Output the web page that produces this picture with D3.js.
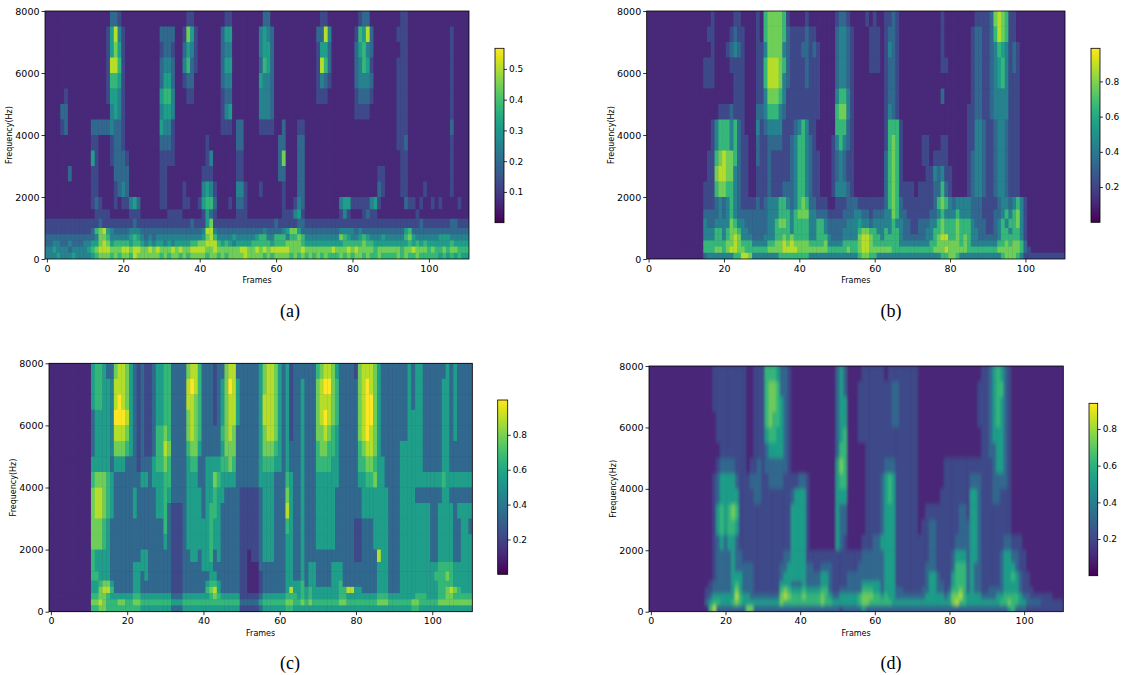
<!DOCTYPE html>
<html>
<head>
<meta charset="utf-8">
<title>Spectrograms</title>
<script src="https://cdn.jsdelivr.net/npm/d3@7"></script>
<style>
  body { margin: 0; background: #fff; }
  svg { display: block; }
  .tick text { font-family: "DejaVu Sans", sans-serif; fill: #000; }
  .tick line { stroke: #000; stroke-width: 0.8px; }
  .axis-label { font-family: "DejaVu Sans", sans-serif; font-size: 8px; fill: #000; }
  .caption { font-family: "Liberation Serif", "Times New Roman", serif; font-size: 18px; fill: #000; }
</style>
</head>
<body>
<svg id="chart" width="1128" height="675"></svg>
<script>
const nFrames = 111;
const bandEdges = [0, 200, 400, 600, 800, 1000, 1300, 1600, 2000, 2500, 3000, 3500,
                   4000, 4500, 5000, 5500, 6000, 6500, 7000, 7500, 8000];
const xTicks = [0, 20, 40, 60, 80, 100];
const yTicks = [0, 2000, 4000, 6000, 8000];
const vmaxA = 0.567, vmaxB = 0.988, vmaxC = 1.0, vmaxD = 0.94;
const cbarTicksA = [0.1, 0.2, 0.3, 0.4, 0.5];
const cbarTicksB = [0.2, 0.4, 0.6, 0.8];
const cbarTicksC = [0.2, 0.4, 0.6, 0.8];
const cbarTicksD = [0.2, 0.4, 0.6, 0.8];
const captions = ["(a)", "(b)", "(c)", "(d)"];

// levels 0-9 (share of the colour range), one digit per frame,
// top band (7500-8000 Hz) first, bottom band (0-200 Hz) last
const specA = [
  "1111111111 1111111332 1111111111 1111111221 1111111221 1111111331 1111111111 1122111111 1123311111 1112211111 1111111111 1",
  "1111111111 1111112584 2111111111 3333112752 1111113551 1111114543 1111111111 1338411111 1265831111 1122211111 1111112111 1",
  "1111111111 1111112575 2111111111 2332113542 1111113441 1111114553 1111111111 1255311111 1356431111 1112211111 1111112111 1",
  "1111111111 1111112886 2111111111 3443114632 1111113551 1111113653 1111111111 1286311111 1346521111 1122211111 1111112111 1",
  "1111111111 1111112665 2111111111 3553112331 1111113441 1111115443 1111111111 1243211111 1344431111 1122211111 1111112111 1",
  "1111121111 1111112554 2111111111 5664111221 1111112331 1111114443 1111111111 1222111111 1233321111 1122211111 1111112111 1",
  "1111331111 1111111454 2111111111 4554111111 1111112451 1111114443 1111111111 1111111111 1222211111 1122211111 1111112111 1",
  "1111231111 1133333433 2111111111 5442111111 1111112221 3311112222 1131112211 1111111111 1111111111 1122211111 1111113111 1",
  "1111111111 1122111233 2111111111 3332111111 1121111111 3311111111 1331113311 1111111111 1111111111 1122311111 1111112111 1",
  "1111111111 1152111233 3211111111 2222111111 1124111111 2211111111 1371113311 1111111111 1111111111 1112211111 1111112111 1",
  "1111113111 1122111133 3311111111 2211111111 1222111111 2211111111 1331113311 1111111111 1111111221 1112211111 1111112111 1",
  "1111111111 1122111123 4311111111 2211112111 1454211111 4421112111 1121113311 1111111111 1111111321 1112211112 1111112111 1",
  "1111111111 1123211121 2245311111 2211112211 2566311121 3321111111 1121124311 1111111455 2222245211 1111322121 1212111121 1",
  "1111111111 1112222111 1122211111 1122221111 1253211111 2221111111 1122245211 1111111242 1112322111 1111111211 1111111111 1",
  "2222222222 2222322222 2223222222 2222222232 2257222222 2222222222 3222223322 2222222222 2222222222 2222222232 2222223322 2",
  "2222222222 2236785433 3344433333 3333333333 3488433333 3333333433 3345775333 3333333444 4343333333 3333563333 3333333333 3",
  "3333333333 3334776444 4456543434 4444444444 4578644445 4444456644 6664667644 4444444765 4456544454 4444675444 4445554444 4",
  "3344334333 4455787566 6656654545 5454555566 7788865654 5555666665 6667777655 5555555566 6667665555 5555565656 5555556555 5",
  "4454443444 4567888777 8878877878 7778787788 8877877777 7887787878 8888777877 7777787778 7877776777 7776778777 6766767766 6",
  "4445444544 4456777676 7768777777 6767767677 7767767677 7787777676 7777676767 6767666767 6776766766 6676766766 6665656565 5"
];

const specB = [
  "1111111111 1111111211 1112211112 1677776211 1121111111 2332111121 2112232111 1111111121 1111111222 2378762211 1111111111 1",
  "1111111111 1111112211 1123221112 1677776322 2232211111 3443211112 2212332111 1111111121 1111112332 2368762211 1111111111 1",
  "1111111111 1111111211 1234321112 2477774322 2332321111 3443211112 2212432111 1111111121 1111112332 2346542321 1111111111 1",
  "1111111111 1111122211 1122221112 2688876322 2232221111 3443211112 2212332111 1111111122 1111112332 2345642321 1111111111 1",
  "1111111111 1111122211 1112221112 2688874322 2232221111 3443211111 1112332111 1111111111 1111112332 2345642221 1111111111 1",
  "1111111111 1111111111 1112221112 2477764222 2222221111 4664211111 1112332111 1111111131 1111112332 2344442221 1111111111 1",
  "1111111111 1111111112 2232221113 3466643222 2222221111 6774211111 1112432111 1111111111 1111122332 2344442221 1111111111 1",
  "1111111111 1111111246 6646321114 2344442223 4642211111 6663211111 1112666211 1111111111 1111122443 2234432221 1111111111 1",
  "1111111111 1111111246 6646322113 2233332234 6643211112 4643211111 1112676211 1112211122 1111122443 2234432221 1111111111 1",
  "1111111111 1111112267 8776322113 2232222234 6643221112 3432211111 1113676211 1112212222 1111123443 2234432221 1111111111 1",
  "1111111111 1111112278 8774322112 2232222234 6643221112 3432211111 1113676211 1111224342 2111123443 2234432221 1111111111 1",
  "1111111111 1111122267 7664322112 2232223334 6643221112 4443211111 1113676222 2122223363 2111123443 2234432221 1111111111 1",
  "1111111111 1111122234 3464322223 2344466434 6763322211 2223332222 2223676322 2222223676 4344443332 2223443464 2111111111 1",
  "1111111111 1111133334 3464333333 3344466646 7774433322 2233344332 3334476332 2222233464 4464443332 2233464674 2111111111 1",
  "1111111111 1111143344 4476443333 3344677646 6664466433 3334445443 4444464433 2233344676 6676664333 2234646674 2111111111 1",
  "1111111111 1111144466 4677644333 3344666646 6664466433 3344446776 6446466433 2233446676 6676664433 2234664664 2111111111 1",
  "1111111111 1111144466 4678744433 3444667676 6664466643 3344447887 6646666433 3333446788 6676764433 3334666664 2111111111 1",
  "1111111111 1111166666 6778766644 4466778787 7776666744 4466667887 6666666444 4444466777 7776764444 4446676776 3111111111 1",
  "1111111111 1111166677 6788776666 6677778888 7777777766 6667667887 7777766666 6666667778 7777766666 6667777776 3211111111 1",
  "1111111111 1111134444 4446688744 4444466666 6664444444 4444446776 6444444444 4444444466 7764444444 4444677764 2222222222 2"
];

const specC = [
  "1111111111 1566533788 7532322355 6633337886 3332337883 3333357887 5352333333 6788753333 2788875333 3333535533 3333535333 3",
  "1111111111 1566554888 7532322355 6633338986 3332357985 3333357887 5352335333 7899763333 3789875333 3333535533 3335535333 3",
  "1111111111 1566554898 7532322355 6633338876 3332357885 3333358887 5352335333 7888763333 3789975333 3333535533 3335535333 3",
  "1111111111 1355554999 8532322355 6633337876 3332357885 3333358887 5352335333 7898763333 3789975333 3333555533 3335535333 3",
  "1111111111 1355554888 7532322366 7633337876 3333367873 3333357887 5352335333 7787653333 3789875333 3333555533 3335535333 3",
  "1111111111 1355554777 6532322366 8733336775 3333357773 3333357776 5353335333 6776653333 3678875333 3355555533 3335533333 3",
  "1111111111 1555553555 3332333566 7633335663 3555566763 3333356665 5353335333 6666553333 3667765533 3355555533 3335533333 3",
  "1111111111 1677765333 3333553555 6633335553 3557655553 3333355553 3365335333 5555553333 3556675533 3355555555 5556555555 5",
  "1111111111 1788765333 3353333355 6533335555 3556553333 2222235553 3375335333 5555533333 3355555553 3355553333 3335533333 3",
  "1111111111 1788765333 3353333355 6322235555 3566533333 2222235553 3385335333 5555533333 3355555553 3355555555 3355553555 5",
  "1111111111 1777653333 3333333333 6322235555 5565533333 2222235553 3365335333 5555533333 2233355553 3355555555 3355553355 3",
  "1111111111 1777653333 3333333333 5322235555 5565533333 2222235553 3355335333 5555533333 2233355553 3355555555 3355553355 5",
  "1111111111 1655553333 3333553333 3322233553 5563533333 2212235553 3355335333 3333333333 2233338553 3355555555 3355553355 5",
  "1111111111 1655553333 3355553333 3322233333 5553333333 2211133333 3355335355 3333555333 3333335553 3355555555 5566665555 5",
  "1111111111 1665553333 3355353333 3322233333 3355333333 2211123333 3355335355 3333555333 3333335553 3355555555 5666765555 5",
  "1111111111 1556775333 3355333333 3322233333 3566533333 2211123333 3355556355 3333556333 3333335553 3355555555 5566665555 5",
  "1111111111 1557886333 3355333333 3322233333 3678533333 2211123333 3358556565 5555556688 5533335553 3355555555 5566787655 5",
  "1111111111 1667765555 5566555555 5533355555 5567655555 2222235555 5566656565 5555556655 5555556665 5555556665 5566776666 6",
  "1111111111 1778766677 6677666666 6655566666 6666666666 3333356666 6677667676 6666667766 6666667776 6666677666 6677777777 7",
  "1111111111 1667766666 6666555555 5533355555 5555555555 2222235555 5566555555 5555555555 5555555555 5555566555 5555555555 5"
];

const specD = [
  "1111111111 1111111222 2222221122 2666533211 1111111111 3531111222 2221222222 2211111111 1111111112 2356532111 1111111111 1",
  "1111111111 1111111222 2222221122 2677633211 1111111111 3531112222 2222233222 2211111111 1111111122 2356632111 1111111111 1",
  "1111111111 1111111222 2222221122 2677653211 1111111111 3551112222 2222233222 2211111111 1111111122 2356532111 1111111111 1",
  "1111111111 1111111122 2222221122 2676653211 1111111111 3551112222 2222233222 2211111111 1111111122 2356532111 1111111111 1",
  "1111111111 1111111122 2222221122 2566553211 1111111111 3561112222 2222222222 2211111111 1111111112 2355532111 1111111111 1",
  "1111111111 1111111112 2222221122 2355553211 1111111111 3661111122 2222222222 2211111111 1111111112 2335532111 1111111111 1",
  "1111111111 1111111123 3332221223 2333333211 1111111111 5761111122 2223332222 2211111112 2222222222 2235532111 1111111111 1",
  "1111111111 1111111235 5553222333 2233332222 3321111111 5661111122 2235652222 2211111112 2222223332 2233332111 1111111111 1",
  "1111111111 1111111235 5555222233 2222222235 5521111111 5551111122 2235652222 2211111122 2222225532 2233222111 1111111111 1",
  "1111111111 1111111256 5676222222 2222222255 5521111111 5331111122 2235552222 2211222222 2223325532 2222222111 1111111111 1",
  "1111111111 1111111256 5665222222 2222222255 5521111111 5331111122 2235552222 2212233222 2223335532 2222222111 1111111111 1",
  "1111111111 1111111235 3553222222 2222222255 5521111111 5321111222 3355552222 2222233222 2233335532 2222233222 1111111111 1",
  "1111111111 1111111233 3353322222 2222223355 5522222222 2222222333 3335552222 2222233222 2355535532 2222355332 2111111111 1",
  "1111111111 1111111233 3353333322 2222233555 5533223332 2222223333 3335552222 2222333222 2366635332 2222355532 2111111111 1",
  "1111111111 1111111233 3355533322 2222235555 5533335532 2223333333 3335552222 2222355322 2566635332 2222355653 2211111111 1",
  "1111111111 1111112333 3356533322 2222255533 3533335532 2223333555 5535552222 2222355332 2566635332 2222355553 2211111111 1",
  "1111111111 1111122333 3357533322 2222267655 5655556632 2333333666 5535553322 2223355332 3667635332 2333355553 2221111111 1",
  "1111111111 1111123555 5558655333 3333378766 6766667653 3555556777 6656553333 3333555553 5778655553 3335566665 3322222211 1",
  "1111111111 1111135665 5567655555 5555576666 6666667665 5555556776 6666655555 5555555555 5786655555 5555667665 5333322222 2",
  "1111111111 1111116833 3333337733 3333333333 3333333333 3233333533 3333333333 3333333333 3333333333 3333335633 3222222222 2"
];

// layout of the four panels (pixels)
const panels = [
  {rows: specA, vmax: vmaxA, cbTicks: cbarTicksA, caption: captions[0], soft: false,
   plot: {x: 45, y: 11, w: 424, h: 248}, cbar: {x: 495, y: 48.3, w: 9, h: 174.4}, cap: {x: 290, y: 317}},
  {rows: specB, vmax: vmaxB, cbTicks: cbarTicksB, caption: captions[1], soft: false,
   plot: {x: 646.7, y: 11, w: 418.3, h: 248}, cbar: {x: 1091, y: 48.3, w: 9, h: 174}, cap: {x: 891, y: 317}},
  {rows: specC, vmax: vmaxC, cbTicks: cbarTicksC, caption: captions[2], soft: false,
   plot: {x: 49, y: 363.3, w: 423.3, h: 248.4}, cbar: {x: 497.7, y: 400, w: 10, h: 174.3}, cap: {x: 290, y: 669}},
  {rows: specD, vmax: vmaxD, cbTicks: cbarTicksD, caption: captions[3], soft: true,
   plot: {x: 649, y: 366, w: 414.3, h: 245.7}, cbar: {x: 1089, y: 403.3, w: 8.7, h: 172.4}, cap: {x: 891, y: 669}}
];

const svg = d3.select("#chart");
const defs = svg.append("defs");

defs.append("filter")
    .attr("id", "soft")
    .attr("x", "-5%").attr("y", "-5%").attr("width", "110%").attr("height", "110%")
    .append("feGaussianBlur")
    .attr("stdDeviation", "1.3 2.2");

const grad = defs.append("linearGradient")
    .attr("id", "viridis")
    .attr("x1", 0).attr("y1", 1).attr("x2", 0).attr("y2", 0);
d3.range(0, 1.0001, 0.05).forEach(t => {
    grad.append("stop").attr("offset", t).attr("stop-color", d3.interpolateViridis(t));
});

panels.forEach((p, i) => {
    const {x: px, y: py, w: pw, h: ph} = p.plot;

    const x = d3.scaleLinear().domain([-0.5, nFrames - 0.5]).range([px, px + pw]);
    const y = d3.scaleLinear().domain([0, 8000]).range([py + ph, py]);
    const color = d3.scaleSequential(d3.interpolateViridis).domain([0, p.vmax]);

    const cells = [];
    p.rows.forEach((row, r) => {
        const levels = row.replace(/\s/g, "");
        const band = bandEdges.length - 2 - r;
        for (let f = 0; f < levels.length; f++) {
            cells.push({f: f, lo: bandEdges[band], hi: bandEdges[band + 1], v: +levels[f] / 9 * p.vmax});
        }
    });

    defs.append("clipPath").attr("id", "clip" + i)
        .append("rect").attr("x", px).attr("y", py).attr("width", pw).attr("height", ph);

    const g = svg.append("g").attr("clip-path", `url(#clip${i})`);
    const inner = g.append("g");
    if (p.soft) inner.attr("filter", "url(#soft)");

    inner.append("rect")
        .attr("x", px - 10).attr("y", py - 10)
        .attr("width", pw + 20).attr("height", ph + 20)
        .attr("fill", color(p.vmax / 9));

    inner.selectAll("rect.cell")
        .data(cells)
        .join("rect")
        .attr("class", "cell")
        .attr("x", d => x(d.f - 0.5))
        .attr("width", d => x(d.f + 0.5) - x(d.f - 0.5) + 0.4)
        .attr("y", d => y(d.hi))
        .attr("height", d => y(d.lo) - y(d.hi) + 0.4)
        .attr("fill", d => color(d.v));

    svg.append("rect")
        .attr("x", px).attr("y", py).attr("width", pw).attr("height", ph)
        .attr("fill", "none").attr("stroke", "#000").attr("stroke-width", 0.8);

    const xAxis = svg.append("g")
        .attr("transform", `translate(0,${py + ph})`)
        .call(d3.axisBottom(x).tickValues(xTicks).tickSize(3.5).tickPadding(2.5)
            .tickFormat(d3.format("d")));
    xAxis.select(".domain").remove();
    xAxis.selectAll(".tick text").attr("font-size", 9.5);

    const yAxis = svg.append("g")
        .attr("transform", `translate(${px},0)`)
        .call(d3.axisLeft(y).tickValues(yTicks).tickSize(3.5).tickPadding(2)
            .tickFormat(d3.format("d")));
    yAxis.select(".domain").remove();
    yAxis.selectAll(".tick text").attr("font-size", 9.5);

    svg.append("text")
        .attr("class", "axis-label")
        .attr("x", px + pw / 2)
        .attr("y", py + ph + 24)
        .attr("text-anchor", "middle")
        .text("Frames");

    svg.append("text")
        .attr("class", "axis-label")
        .attr("transform", `translate(${px - 33},${py + ph / 2}) rotate(-90)`)
        .attr("text-anchor", "middle")
        .text("Frequency(Hz)");

    // colour bar
    const c = p.cbar;
    svg.append("rect")
        .attr("x", c.x).attr("y", c.y).attr("width", c.w).attr("height", c.h)
        .attr("fill", "url(#viridis)")
        .attr("stroke", "#000").attr("stroke-width", 0.8);

    const cScale = d3.scaleLinear().domain([0, p.vmax]).range([c.y + c.h, c.y]);
    const cAxis = svg.append("g")
        .attr("transform", `translate(${c.x + c.w},0)`)
        .call(d3.axisRight(cScale).tickValues(p.cbTicks).tickSize(3).tickPadding(2)
            .tickFormat(d3.format(".1f")));
    cAxis.select(".domain").remove();
    cAxis.selectAll(".tick text").attr("font-size", 9);

    svg.append("text")
        .attr("class", "caption")
        .attr("x", p.cap.x)
        .attr("y", p.cap.y)
        .attr("text-anchor", "middle")
        .text(p.caption);
});
</script>
</body>
</html>
